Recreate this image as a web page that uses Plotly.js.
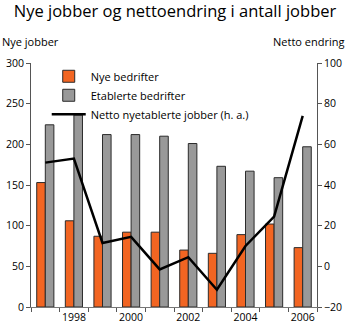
<!DOCTYPE html>
<html>
<head>
<meta charset="utf-8">
<script src="https://cdn.plot.ly/plotly-3.0.1.min.js"></script>
<style>html,body{margin:0;padding:0;background:#fff}#chart{width:350px;height:333px}</style>
</head>
<body>
<div id="chart"></div>
<script>
const years = [1997, 1998, 1999, 2000, 2001, 2002, 2003, 2004, 2005, 2006];
const nyeBedrifter = [153, 106, 87, 92, 92, 70, 66, 89, 102, 73];
const etablerteBedrifter = [224, 236, 212, 212, 210, 201, 173, 167, 159, 197];
const nettoNyetablerte = [51, 53, 11.5, 14.5, -1.5, 4.5, -11.5, 10, 24.5, 74];
const tickYears = [1998, 2000, 2002, 2004, 2006];
const boundaries = years.map(y => y - 0.5).concat([years[years.length - 1] + 0.5]);

const font = 'Open Sans, Noto Sans, sans-serif';
const dark = '#2b2b2b';

const traces = [
  {
    type: 'bar', name: 'Nye bedrifter', x: years, y: nyeBedrifter,
    marker: {color: '#F26522', line: {color: dark, width: 1}}
  },
  {
    type: 'bar', name: 'Etablerte bedrifter', x: years, y: etablerteBedrifter,
    marker: {color: '#999999', line: {color: dark, width: 1}}
  },
  {
    type: 'scatter', mode: 'lines', name: 'Netto nyetablerte jobber (h. a.)',
    x: years, y: nettoNyetablerte, yaxis: 'y2',
    line: {color: '#000000', width: 2.5}
  }
];

const layout = {
  width: 350, height: 333,
  margin: {l: 31, r: 33, t: 63, b: 26},
  paper_bgcolor: '#fff', plot_bgcolor: '#fff',
  font: {family: font, size: 11, color: '#000'},
  title: {text: 'Nye jobber og nettoendring i antall jobber', x: 0.5, xanchor: 'center', y: 0.985, yanchor: 'top', font: {family: font, size: 16.5, color: '#000'}},
  showlegend: true,
  legend: {x: 0.055, y: 1.005, xanchor: 'left', yanchor: 'top', bgcolor: 'rgba(0,0,0,0)', font: {family: font, size: 11}, tracegroupgap: 0, itemwidth: 34},
  barmode: 'group', bargap: 0.4, bargroupgap: 0,
  xaxis: {
    range: [1996.5, 2006.5], tickvals: tickYears, ticktext: tickYears.map(String),
    ticks: '', showgrid: false, zeroline: false, showline: true, linecolor: '#777', linewidth: 1,
    tickfont: {size: 10.5},
    minor: {tickvals: boundaries, ticks: 'outside', ticklen: 4, tickcolor: '#555', showgrid: false}
  },
  yaxis: {
    range: [0, 300], tickvals: [0, 50, 100, 150, 200, 250, 300], ticks: 'outside', ticklen: 4, tickcolor: '#555',
    showgrid: false, zeroline: false, showline: true, linecolor: '#555', linewidth: 1, tickfont: {size: 10.5}
  },
  yaxis2: {
    range: [-20, 100], tickvals: [-20, 0, 20, 40, 60, 80, 100], overlaying: 'y', side: 'right', ticks: 'outside', ticklen: 4, tickcolor: '#555',
    showgrid: false, zeroline: false, showline: true, linecolor: '#555', linewidth: 1, tickfont: {size: 10.5}
  },
  annotations: [
    {text: 'Nye jobber', xref: 'paper', yref: 'paper', x: 0, y: 1, xshift: -31, yshift: 22, xanchor: 'left', yanchor: 'middle', showarrow: false, font: {family: font, size: 11}},
    {text: 'Netto endring', xref: 'paper', yref: 'paper', x: 1, y: 1, xshift: 29, yshift: 22, xanchor: 'right', yanchor: 'middle', showarrow: false, font: {family: font, size: 11}}
  ]
};

Plotly.newPlot('chart', traces, layout, {displayModeBar: false, staticPlot: true});
</script>
</body>
</html>
